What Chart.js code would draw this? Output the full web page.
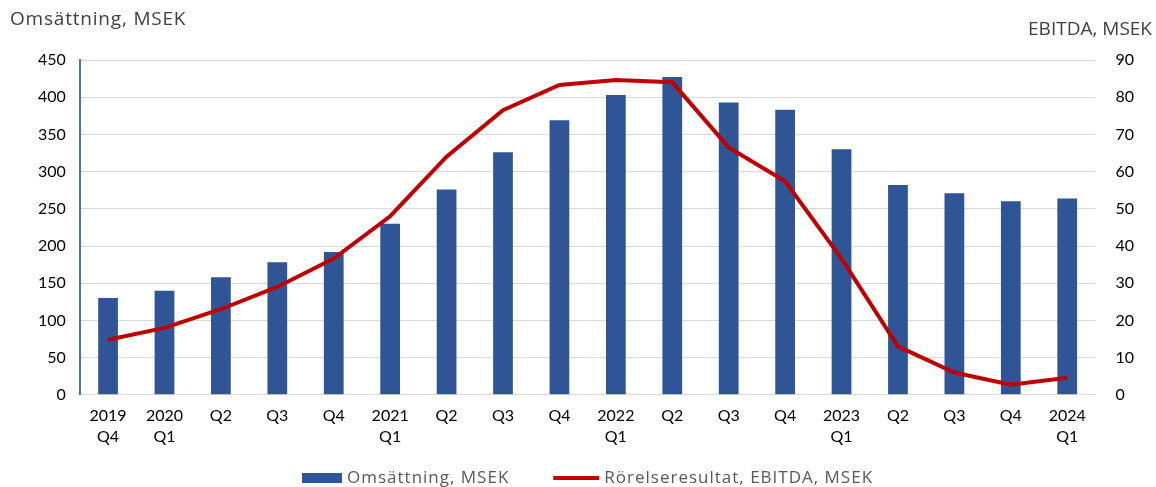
<!DOCTYPE html>
<html>
<head>
<meta charset="utf-8">
<script src="https://cdn.jsdelivr.net/npm/chart.js@4.4.1/dist/chart.umd.min.js"></script>
<style>
  html,body{margin:0;padding:0;background:#fff;}
  #wrap{width:1156px;height:487px;position:relative;}
</style>
</head>
<body>
<div id="wrap"><canvas id="c"></canvas></div>
<script>
// ---------- data ----------
const quarters = [['2019','Q4'],['2020','Q1'],'Q2','Q3','Q4',['2021','Q1'],'Q2','Q3','Q4',
  ['2022','Q1'],'Q2','Q3','Q4',['2023','Q1'],'Q2','Q3','Q4',['2024','Q1']];
const revenue = [130,140,158,178,192,230,276,326,369,403,427,393,383,330,282,271,260,264];
const ebitda  = [14.8,18,23,29,36.6,48,64,76.5,83.3,84.6,84,66.5,57.4,36.6,13,6,2.7,4.6];
const leftTitle = 'Omsättning, MSEK';
const rightTitle = 'EBITDA, MSEK';

const tickFont = "Lato, 'Open Sans', sans-serif";
const textFont = "'Open Sans', Lato, sans-serif";

// axis titles + legend drawn by hand (spacing like the original)
const extras = {
  id:'extras',
  afterDraw(chart){
    const ctx = chart.ctx;
    ctx.save();
    ctx.fillStyle = '#404040';
    ctx.font = '19px ' + textFont;
    ctx.textBaseline = 'middle';
    ctx.letterSpacing = '0.8px';
    ctx.textAlign = 'left';
    ctx.fillText(leftTitle, 10, 20);
    ctx.letterSpacing = '0px';
    ctx.textAlign = 'right';
    ctx.fillText(rightTitle, 1152, 30);

    // legend: bars first, then line
    const y = 478;
    let x = 302;
    ctx.font = '17px ' + textFont;
    ctx.letterSpacing = '1px';
    ctx.textAlign = 'left';
    const items = [chart.data.datasets[1], chart.data.datasets[0]];
    items.forEach((ds)=>{
      if (ds.type === 'bar') {
        ctx.fillStyle = ds.backgroundColor;
        ctx.fillRect(x, y - 5, 40, 10);
        x += 45;
      } else {
        ctx.strokeStyle = ds.borderColor;
        ctx.lineWidth = ds.borderWidth;
        ctx.beginPath(); ctx.moveTo(x, y); ctx.lineTo(x + 46, y); ctx.stroke();
        x += 51;
      }
      ctx.fillStyle = '#595959';
      ctx.fillText(ds.label, x, y);
      x += ctx.measureText(ds.label).width + 44;
    });
    ctx.restore();
  }
};

new Chart(document.getElementById('c'), {
  data:{
    labels: quarters,
    datasets:[
      {type:'line', label:'Rörelseresultat, EBITDA, MSEK', data:ebitda, yAxisID:'y1',
       borderColor:'#c00000', backgroundColor:'#c00000', borderWidth:4, pointRadius:0,
       tension:0, order:0},
      {type:'bar', label:'Omsättning, MSEK', data:revenue, yAxisID:'y',
       backgroundColor:'#2f5597', borderColor:'#2f5597',
       barPercentage:0.35, categoryPercentage:1, order:1}
    ]
  },
  options:{
    responsive:true, maintainAspectRatio:false, animation:false,
    layout:{padding:{top:60, left:24, right:2, bottom:29}},
    scales:{
      x:{
        grid:{display:false, drawTicks:false},
        border:{color:'#d9d9d9', width:1},
        ticks:{color:'#000', font:{family:tickFont, size:16, lineHeight:1.35}, padding:10, maxRotation:0, autoSkip:false}
      },
      y:{
        position:'left', min:0, max:450,
        ticks:{stepSize:50, color:'#000', font:{family:tickFont, size:16}, padding:14},
        grid:{color:'#d9d9d9', drawTicks:false},
        border:{color:'#4472c4', width:2}
      },
      y1:{
        position:'right', min:0, max:90,
        ticks:{stepSize:10, color:'#000', font:{family:tickFont, size:16}, padding:20},
        grid:{display:false, drawTicks:false},
        border:{display:false}
      }
    },
    plugins:{
      tooltip:{enabled:false},
      legend:{display:false}
    }
  },
  plugins:[extras]
});
</script>
</body>
</html>
